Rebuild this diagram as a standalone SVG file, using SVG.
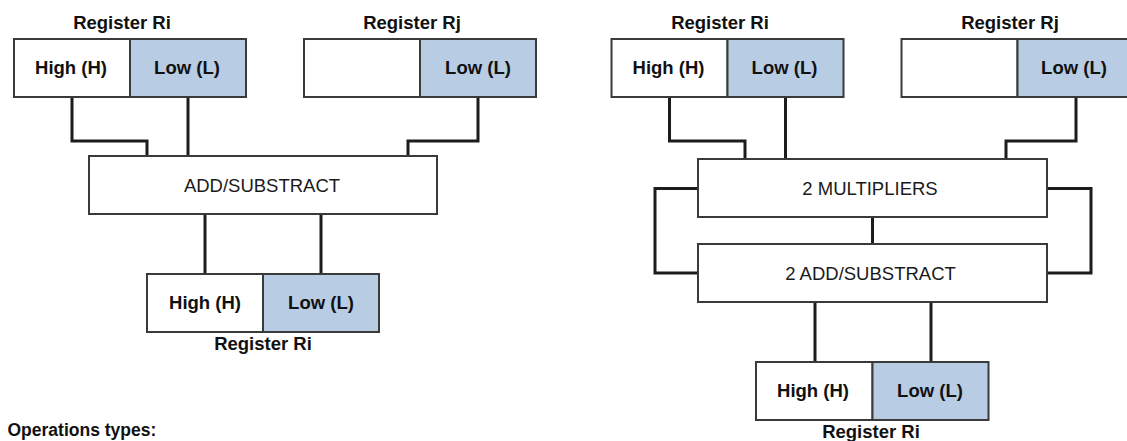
<svg xmlns="http://www.w3.org/2000/svg" width="1127" height="441" viewBox="0 0 1127 441">
  <style>
    .cell { fill: #ffffff; stroke: #3a3a3a; stroke-width: 2; }
    .low { fill: #b8cce4; stroke: #3a3a3a; stroke-width: 2; }
    .unit { fill: #ffffff; stroke: #3a3a3a; stroke-width: 2; }
    .wire { fill: none; stroke: #1c1c1c; stroke-width: 3; stroke-linejoin: miter; }
    .lbl { font-family: "Liberation Sans", Arial, sans-serif; font-weight: bold; font-size: 18.5px; fill: #111111; text-anchor: middle; }
    .op { font-family: "Liberation Sans", Arial, sans-serif; font-size: 18.5px; fill: #1a1a1a; text-anchor: middle; }
    .note { font-family: "Liberation Sans", Arial, sans-serif; font-weight: bold; font-size: 17.5px; fill: #111111; }
  </style>

  <rect width="1127" height="441" fill="#ffffff"/>

  <!-- connectors -->
  <g id="connectors">
    <!-- single add/subtract path -->
    <polyline class="wire" points="72,97 72,141 147,141 147,156"/>
    <polyline class="wire" points="188,97 188,156"/>
    <polyline class="wire" points="478,97 478,141 408,141 408,156"/>
    <polyline class="wire" points="205,214 205,274"/>
    <polyline class="wire" points="321,214 321,274"/>
    <!-- multiply-accumulate path -->
    <polyline class="wire" points="669.5,97 669.5,141 745,141 745,159"/>
    <polyline class="wire" points="785.5,97 785.5,159"/>
    <polyline class="wire" points="1076,97 1076,141 1006,141 1006,159"/>
    <polyline class="wire" points="698,188.5 655,188.5 655,273 698,273"/>
    <polyline class="wire" points="1047,188.5 1091,188.5 1091,273 1047,273"/>
    <polyline class="wire" points="872.5,217 872.5,244"/>
    <polyline class="wire" points="815,302 815,362"/>
    <polyline class="wire" points="931,302 931,362"/>
  </g>

  <!-- left: source register Ri -->
  <g id="left-src-ri">
    <text class="lbl" x="122" y="29">Register Ri</text>
    <rect class="cell" x="14" y="39" width="116" height="58"/>
    <rect class="low" x="130" y="39" width="116" height="58"/>
    <text class="lbl" x="71" y="73.5">High (H)</text>
    <text class="lbl" x="187" y="73.5">Low (L)</text>
  </g>

  <!-- left: source register Rj -->
  <g id="left-src-rj">
    <text class="lbl" x="412" y="29">Register Rj</text>
    <rect class="cell" x="304" y="39" width="116" height="58"/>
    <rect class="low" x="420" y="39" width="116" height="58"/>
    <text class="lbl" x="478" y="73.5">Low (L)</text>
  </g>

  <!-- left: adder -->
  <g id="left-add">
    <rect class="unit" x="89" y="156" width="348" height="58"/>
    <text class="op" x="262" y="192">ADD/SUBSTRACT</text>
  </g>

  <!-- left: destination register Ri -->
  <g id="left-dst-ri">
    <rect class="cell" x="147" y="274" width="116" height="58"/>
    <rect class="low" x="263" y="274" width="116" height="58"/>
    <text class="lbl" x="205" y="308.5">High (H)</text>
    <text class="lbl" x="321" y="308.5">Low (L)</text>
    <text class="lbl" x="263" y="350">Register Ri</text>
  </g>

  <!-- right: source register Ri -->
  <g id="right-src-ri">
    <text class="lbl" x="720" y="29">Register Ri</text>
    <rect class="cell" x="611.5" y="39" width="116" height="58"/>
    <rect class="low" x="727.5" y="39" width="116" height="58"/>
    <text class="lbl" x="668.5" y="73.5">High (H)</text>
    <text class="lbl" x="784.5" y="73.5">Low (L)</text>
  </g>

  <!-- right: source register Rj (runs past the right edge) -->
  <g id="right-src-rj">
    <text class="lbl" x="1010" y="29">Register Rj</text>
    <rect class="cell" x="901.5" y="39" width="116" height="58"/>
    <rect class="low" x="1017.5" y="39" width="116" height="58"/>
    <text class="lbl" x="1074" y="73.5">Low (L)</text>
  </g>

  <!-- right: multipliers -->
  <g id="right-mul">
    <rect class="unit" x="698" y="159" width="349" height="58"/>
    <text class="op" x="870" y="195">2 MULTIPLIERS</text>
  </g>

  <!-- right: adders -->
  <g id="right-add">
    <rect class="unit" x="698" y="244" width="349" height="58"/>
    <text class="op" x="870.5" y="280">2 ADD/SUBSTRACT</text>
  </g>

  <!-- right: destination register Ri -->
  <g id="right-dst-ri">
    <rect class="cell" x="756" y="362" width="116.5" height="58"/>
    <rect class="low" x="872.5" y="362" width="116" height="58"/>
    <text class="lbl" x="813" y="396.5">High (H)</text>
    <text class="lbl" x="930" y="396.5">Low (L)</text>
    <text class="lbl" x="871" y="438">Register Ri</text>
  </g>

  <text class="note" x="7.5" y="436">Operations types:</text>
</svg>
